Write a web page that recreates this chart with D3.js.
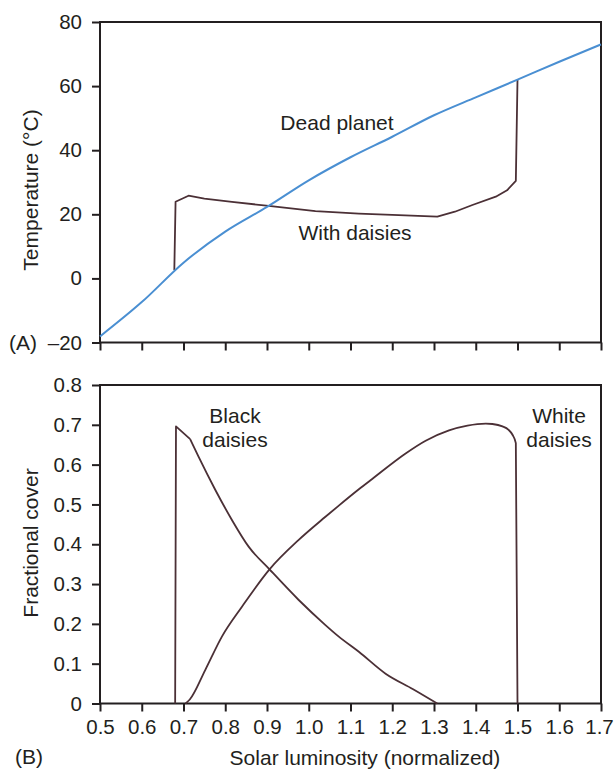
<!DOCTYPE html>
<html>
<head>
<meta charset="utf-8">
<script src="https://cdn.jsdelivr.net/npm/d3@7"></script>
<style>
  body { margin: 0; background: #fff; }
  text { font-family: "Liberation Sans", Arial, sans-serif; fill: #231f20; }
</style>
</head>
<body>
<script>
// x values shared by both panels
var lumTicks = [0.5, 0.6, 0.7, 0.8, 0.9, 1.0, 1.1, 1.2, 1.3, 1.4, 1.5, 1.6, 1.7];
var tempTicks = [80, 60, 40, 20, 0, -20];
var coverTicks = [0.8, 0.7, 0.6, 0.5, 0.4, 0.3, 0.2, 0.1, 0];

// panel A: dead planet
var deadLum = [0.5, 0.6, 0.7, 0.8, 0.9, 1.0, 1.1, 1.2, 1.3, 1.4, 1.5, 1.6, 1.7];
var deadTemp = [-18.1, -7.4, 4.9, 14.6, 22.3, 30.6, 37.8, 44.2, 50.9, 56.5, 62.0, 67.6, 73.0];

// panel A: with daisies
var daisyLum = [0.678, 0.681, 0.712, 0.75, 0.816, 0.904, 1.016, 1.12, 1.2, 1.308, 1.35, 1.392, 1.448, 1.475, 1.496, 1.5];
var daisyTemp = [2.6, 23.9, 25.8, 24.9, 23.9, 22.6, 21.0, 20.2, 19.8, 19.3, 20.8, 22.9, 25.5, 27.5, 30.4, 62.0];

// panel B: black daisies
var blackLum = [0.68, 0.682, 0.716, 0.736, 0.776, 0.816, 0.856, 0.906, 0.976, 1.04, 1.072, 1.12, 1.184, 1.25, 1.308];
var blackCover = [0, 0.696, 0.664, 0.62, 0.537, 0.461, 0.394, 0.337, 0.26, 0.197, 0.168, 0.13, 0.075, 0.036, 0];

// panel B: white daisies
var whiteLum = [0.705, 0.715, 0.752, 0.792, 0.84, 0.906, 0.976, 1.04, 1.072, 1.12, 1.152, 1.232, 1.28, 1.336, 1.38, 1.424, 1.44, 1.464, 1.478, 1.488, 1.496, 1.5];
var whiteCover = [0, 0.01, 0.084, 0.168, 0.243, 0.337, 0.411, 0.469, 0.497, 0.538, 0.564, 0.628, 0.66, 0.686, 0.698, 0.703, 0.702, 0.696, 0.688, 0.675, 0.654, 0];

var ink = "#231f20";
var blue = "#4a8fd2";
var brown = "#4b3036";
var font = '"Liberation Sans", Arial, sans-serif';

var svg = d3.select("body").append("svg")
  .attr("width", 614)
  .attr("height", 769);

var x = d3.scaleLinear().domain([0.5, 1.7]).range([100, 601]);
var yA = d3.scaleLinear().domain([-20, 80]).range([342.5, 22]);
var yB = d3.scaleLinear().domain([0, 0.8]).range([703.5, 385]);

function zip(xs, ys) {
  return xs.map(function(v, i) { return [v, ys[i]]; });
}

function panel(y, yTicks, yFmt, showX) {
  var g = svg.append("g");
  var r = y.range();
  g.append("rect")
    .attr("x", x(0.5)).attr("y", r[1])
    .attr("width", x(1.7) - x(0.5)).attr("height", r[0] - r[1])
    .attr("fill", "none").attr("stroke", ink).attr("stroke-width", 2);

  var ya = g.append("g")
    .attr("transform", "translate(" + x(0.5) + ",0)")
    .call(d3.axisLeft(y).tickValues(yTicks).tickFormat(yFmt).tickSize(8).tickPadding(10));
  var xa = g.append("g")
    .attr("transform", "translate(0," + r[0] + ")")
    .call(d3.axisBottom(x).tickValues(lumTicks).tickFormat(showX ? d3.format(".1f") : "").tickSize(8).tickPadding(8));

  [ya, xa].forEach(function(a) {
    a.select(".domain").remove();
    a.selectAll("line").attr("stroke", ink).attr("stroke-width", 2);
    a.selectAll("text").attr("font-size", 20.5).attr("fill", ink)
      .style("font-family", font);
  });
  // keep the last x label inside the page edge
  xa.selectAll("text").filter(function(d) { return d === 1.7; }).attr("dx", -2);
  return g;
}

var gA = panel(yA, tempTicks, function(d) { return d < 0 ? "\u2013" + Math.abs(d) : d; }, false);
var gB = panel(yB, coverTicks, function(d) { return d === 0 ? "0" : d3.format(".1f")(d); }, true);

var lineA = d3.line().x(function(d) { return x(d[0]); }).y(function(d) { return yA(d[1]); });
var lineB = d3.line().x(function(d) { return x(d[0]); }).y(function(d) { return yB(d[1]); });

function stroke(sel, w, c) {
  return sel.attr("fill", "none").attr("stroke", c).attr("stroke-width", w)
    .attr("stroke-linejoin", "round");
}

stroke(gA.append("path").datum(zip(daisyLum, daisyTemp)).attr("d", lineA), 1.8, brown);
stroke(gA.append("path").datum(zip(deadLum, deadTemp))
  .attr("d", lineA.curve(d3.curveMonotoneX)), 2, blue);

// black daisies: sharp jump and first segment straight, rest smoothed
var black = zip(blackLum, blackCover);
stroke(gB.append("path").datum(black.slice(0, 3)).attr("d", lineB), 1.8, brown);
stroke(gB.append("path").datum(black.slice(2))
  .attr("d", lineB.curve(d3.curveMonotoneX)), 1.8, brown);
stroke(gB.append("path").datum(zip(whiteLum, whiteCover))
  .attr("d", lineB.curve(d3.curveMonotoneX)), 1.8, brown);

// annotations
var notes = [
  { x: 337, y: 130, t: ["Dead planet"] },
  { x: 355, y: 240, t: ["With daisies"] },
  { x: 235, y: 423, t: ["Black", "daisies"] },
  { x: 559, y: 423, t: ["White", "daisies"] }
];
notes.forEach(function(n) {
  var tx = svg.append("text").attr("x", n.x).attr("y", n.y)
    .attr("text-anchor", "middle").attr("font-size", 21);
  n.t.forEach(function(s, i) {
    tx.append("tspan").attr("x", n.x).attr("dy", i === 0 ? 0 : 24).text(s);
  });
});

svg.append("text").attr("x", 9).attr("y", 350).attr("font-size", 21).text("(A)");
svg.append("text").attr("x", 15).attr("y", 764).attr("font-size", 21).text("(B)");

svg.append("text").attr("x", 365).attr("y", 765)
  .attr("text-anchor", "middle").attr("font-size", 21)
  .text("Solar luminosity (normalized)");

svg.append("text")
  .attr("transform", "translate(38,190) rotate(-90)")
  .attr("text-anchor", "middle").attr("font-size", 21)
  .text("Temperature (\u00b0C)");
svg.append("text")
  .attr("transform", "translate(38,543) rotate(-90)")
  .attr("text-anchor", "middle").attr("font-size", 21)
  .text("Fractional cover");
</script>
</body>
</html>
